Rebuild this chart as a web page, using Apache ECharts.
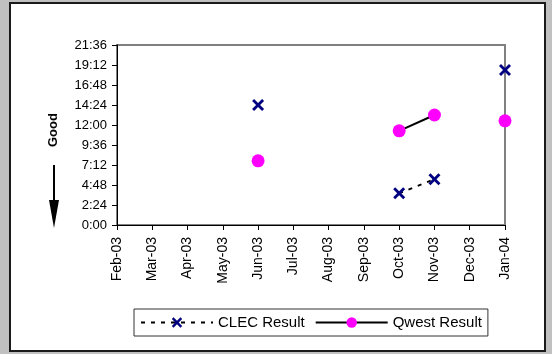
<!DOCTYPE html>
<html>
<head>
<meta charset="utf-8">
<script src="https://cdn.jsdelivr.net/npm/echarts@6/dist/echarts.min.js"></script>
<style>
html,body{margin:0;padding:0;background:#c0c0c0;width:552px;height:354px;overflow:hidden;}
#frame{position:absolute;left:9px;top:2px;width:533px;height:346px;border:2px solid #1a1a1a;background:#fff;}
#chart{position:absolute;left:0;top:0;width:552px;height:354px;}
</style>
</head>
<body>
<div id="frame"></div>
<div id="chart"></div>
<script>
// Data (hours)
const months = ['Feb-03','Mar-03','Apr-03','May-03','Jun-03','Jul-03','Aug-03','Sep-03','Oct-03','Nov-03','Dec-03','Jan-04'];
const clecResult = [null,null,null,null,14.4,null,null,null,3.8,5.5,null,18.6];
const qwestResult = [null,null,null,null,7.7,null,null,null,11.3,13.2,null,12.5];
const yTicks = ['0:00','2:24','4:48','7:12','9:36','12:00','14:24','16:48','19:12','21:36'];

const FONT = '"Liberation Sans", Arial, sans-serif';
const X_PATH = 'path://M0,2 L2,0 L6,4 L10,0 L12,2 L8,6 L12,10 L10,12 L6,8 L2,12 L0,10 L4,6 Z';

const chart = echarts.init(document.getElementById('chart'), null, {renderer:'canvas'});
chart.setOption({
  backgroundColor: 'transparent',
  animation: false,
  textStyle: {fontFamily: FONT},
  grid: {left:117, right:47, top:45, bottom:129, show:true, borderColor:'#808080', borderWidth:2, backgroundColor:'transparent'},
  xAxis: {
    type:'category', data: months, boundaryGap:false,
    axisLine:{show:true, lineStyle:{color:'#000', width:1}},
    axisTick:{show:true, alignWithLabel:true, length:5, lineStyle:{color:'#000'}},
    axisLabel:{rotate:90, color:'#000', fontSize:14, fontFamily:FONT, margin:12, interval:0},
    splitLine:{show:false}
  },
  yAxis: {
    type:'value', min:0, max:21.6, interval:2.4,
    axisLine:{show:true, lineStyle:{color:'#000', width:1}},
    axisTick:{show:true, length:5, lineStyle:{color:'#000'}},
    axisLabel:{color:'#000', fontSize:13, fontFamily:FONT, margin:10,
      formatter: function(v, i){ return yTicks[Math.round(v/2.4)]; }},
    splitLine:{show:false}
  },
  legend: {
    left:134, top:309, orient:'horizontal',
    padding:[6,6,6,6], itemGap:10, itemWidth:72, itemHeight:13,
    borderColor:'#333', borderWidth:1, backgroundColor:'#fff',
    textStyle:{color:'#000', fontSize:15, fontFamily:FONT},
    data:['CLEC Result','Qwest Result']
  },
  graphic: [
    {type:'text', x:47, y:147, rotation:Math.PI/2, style:{text:'Good', font:'bold 13px ' + FONT, fill:'#000'}},
    {type:'line', shape:{x1:54, y1:165, x2:54, y2:205}, style:{stroke:'#000', lineWidth:2}},
    {type:'polygon', shape:{points:[[49,200],[59,200],[54,228]]}, style:{fill:'#000'}}
  ],
  series: [
    {name:'CLEC Result', type:'line', data: clecResult, connectNulls:false,
      symbol: X_PATH, symbolSize:[12,12], showAllSymbol:true,
      itemStyle:{color:'#000080'},
      lineStyle:{color:'#000', width:2, type:[4,6]}},
    {name:'Qwest Result', type:'line', data: qwestResult, connectNulls:false,
      symbol:'circle', symbolSize:13, showAllSymbol:true,
      itemStyle:{color:'#ff00ff'},
      lineStyle:{color:'#000', width:2, type:'solid'}}
  ]
});
</script>
</body>
</html>
